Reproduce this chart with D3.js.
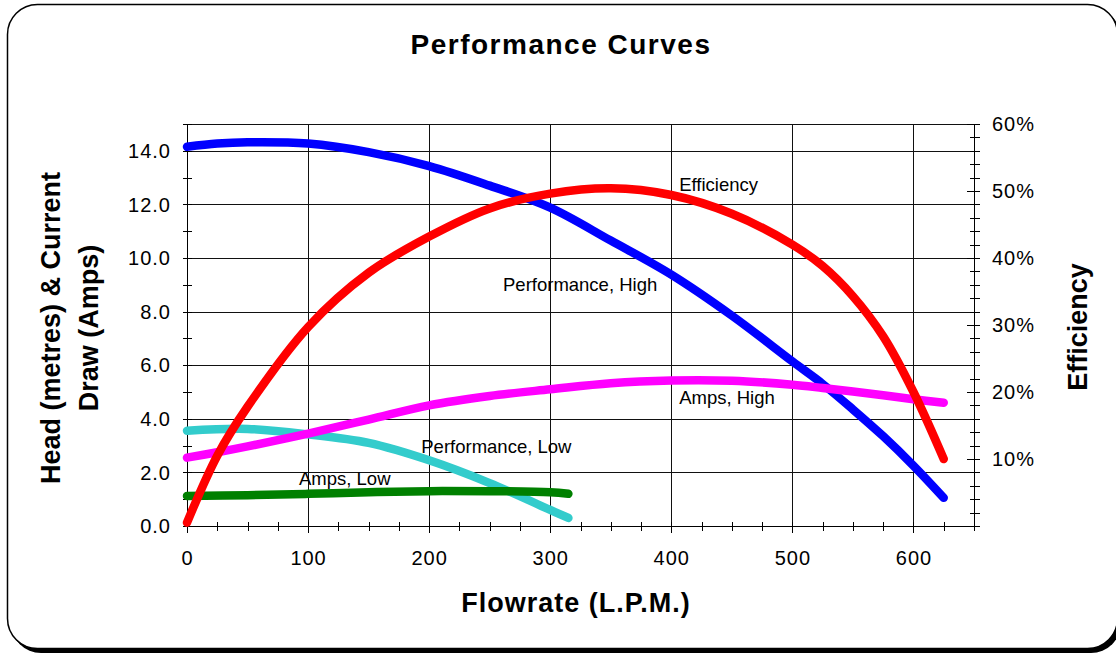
<!DOCTYPE html>
<html lang="en">
<head>
<meta charset="utf-8">
<title>Performance Curves</title>
<script src="https://d3js.org/d3.v7.min.js"></script>
<style>
  body { margin: 0; background: #fff; }
  svg text { font-family: "Liberation Sans", Arial, sans-serif; fill: #000; }
</style>
</head>
<body>
<script>
// flowrate (L.P.M.) for the high speed curves
var flowHigh   = [0, 25, 50, 100, 150, 200, 250, 300, 350, 400, 450, 500, 525, 550, 575, 600, 625];
var perfHigh   = [14.15, 14.27, 14.32, 14.27, 13.95, 13.43, 12.7, 11.88, 10.65, 9.38, 7.85, 6.14, 5.3, 4.35, 3.35, 2.25, 1.05];
var ampsHigh   = [2.55, 2.75, 2.97, 3.45, 3.97, 4.5, 4.85, 5.1, 5.33, 5.43, 5.42, 5.27, 5.15, 5.02, 4.88, 4.73, 4.6];
var efficiency = [0.5, 10.5, 17.8, 29.7, 37.8, 43.2, 47.4, 49.6, 50.4, 49.4, 46.6, 42, 38.8, 34.3, 28.3, 20, 10]; // %

// low speed curves
var flowLow = [0, 50, 100, 150, 200, 250, 300, 315];
var perfLow = [3.55, 3.62, 3.42, 3.1, 2.45, 1.6, 0.6, 0.3];
var ampsLow = [1.12, 1.15, 1.2, 1.26, 1.3, 1.3, 1.26, 1.2];

// ticks
var xTicks = [0, 100, 200, 300, 400, 500, 600];
var xMinorTicks = [0, 25, 50, 75, 100, 125, 150, 175, 200, 225, 250, 275, 300, 325, 350, 375, 400, 425, 450, 475, 500, 525, 550, 575, 600, 625, 650];
var leftTicks = [0, 2, 4, 6, 8, 10, 12, 14];
var leftMinorTicks = [0, 1, 2, 3, 4, 5, 6, 7, 8, 9, 10, 11, 12, 13, 14, 15];
var rightTicks = [10, 20, 30, 40, 50, 60];
var rightMinorTicks = [0, 2, 4, 6, 8, 10, 12, 14, 16, 18, 20, 22, 24, 26, 28, 30, 32, 34, 36, 38, 40, 42, 44, 46, 48, 50, 52, 54, 56, 58, 60];

var W = 1116, H = 653;
var plot = {left: 187, right: 974, top: 124, bottom: 526};

var svg = d3.select("body").append("svg")
  .attr("width", W)
  .attr("height", H);

// rounded frame with shadow
svg.append("rect")
  .attr("x", 11).attr("y", 8).attr("width", 1110).attr("height", 645)
  .attr("rx", 30).attr("fill", "#000");
svg.append("rect")
  .attr("x", 7.5).attr("y", 4.5).attr("width", 1110).attr("height", 644)
  .attr("rx", 30).attr("fill", "#fff").attr("stroke", "#000").attr("stroke-width", 1.5);

var x = d3.scaleLinear().domain([0, 650]).range([plot.left, plot.right]);
var yLeft = d3.scaleLinear().domain([0, 15]).range([plot.bottom, plot.top]);
var yRight = d3.scaleLinear().domain([0, 60]).range([plot.bottom, plot.top]);

// gridlines
var grid = svg.append("g").attr("shape-rendering", "crispEdges")
  .attr("stroke", "#111").attr("stroke-width", 1);
grid.selectAll(".vg").data(xTicks.filter(d => d > 0)).enter().append("line")
  .attr("x1", d => Math.round(x(d)) + 0.5).attr("x2", d => Math.round(x(d)) + 0.5)
  .attr("y1", plot.top).attr("y2", plot.bottom);
grid.selectAll(".hg").data(leftTicks.filter(d => d > 0).concat([15])).enter().append("line")
  .attr("x1", plot.left).attr("x2", plot.right)
  .attr("y1", d => Math.round(yLeft(d)) + 0.5).attr("y2", d => Math.round(yLeft(d)) + 0.5);

// axis lines
var axes = svg.append("g").attr("shape-rendering", "crispEdges")
  .attr("stroke", "#000").attr("stroke-width", 1.5);
axes.append("line").attr("x1", plot.left + 0.5).attr("x2", plot.left + 0.5).attr("y1", plot.top).attr("y2", plot.bottom);
axes.append("line").attr("x1", plot.right + 0.5).attr("x2", plot.right + 0.5).attr("y1", plot.top).attr("y2", plot.bottom);
axes.append("line").attr("x1", plot.left).attr("x2", plot.right + 6).attr("y1", plot.bottom + 0.5).attr("y2", plot.bottom + 0.5);

// tick marks (crossing the axis)
var tk = svg.append("g").attr("shape-rendering", "crispEdges").attr("stroke", "#000").attr("stroke-width", 1);
tk.selectAll(".lt").data(leftMinorTicks).enter().append("line")
  .attr("x1", plot.left - 4).attr("x2", plot.left + 5)
  .attr("y1", d => Math.round(yLeft(d)) + 0.5).attr("y2", d => Math.round(yLeft(d)) + 0.5);
tk.selectAll(".rt").data(rightMinorTicks).enter().append("line")
  .attr("x1", d => d % 10 === 0 ? plot.right - 7 : plot.right - 4).attr("x2", plot.right + 6)
  .attr("y1", d => Math.round(yRight(d)) + 0.5).attr("y2", d => Math.round(yRight(d)) + 0.5);
tk.selectAll(".bt").data(xMinorTicks).enter().append("line")
  .attr("x1", d => Math.round(x(d)) + 0.5).attr("x2", d => Math.round(x(d)) + 0.5)
  .attr("y1", plot.bottom - 4).attr("y2", d => d % 100 === 0 ? plot.bottom + 7 : plot.bottom + 5);

// tick labels
var lab = svg.append("g").attr("font-size", 20).attr("letter-spacing", 1);
lab.selectAll(".ll").data(leftTicks).enter().append("text")
  .attr("x", plot.left - 16).attr("y", d => yLeft(d)).attr("dy", "0.36em")
  .attr("text-anchor", "end").text(d3.format(".1f"));
lab.selectAll(".rl").data(rightTicks).enter().append("text")
  .attr("x", plot.right + 18).attr("y", d => yRight(d)).attr("dy", "0.36em")
  .text(d => d + "%");
lab.selectAll(".bl").data(xTicks).enter().append("text")
  .attr("x", d => x(d) + 0.5).attr("y", 565)
  .attr("text-anchor", "middle").text(d => d);

// curves, drawn in the original series order
var series = [
  {name: "Performance, High", xs: flowHigh, ys: perfHigh, scale: yLeft, color: "#0000ff", lx: 261, ly: 8.78},
  {name: "Performance, Low", xs: flowLow, ys: perfLow, scale: yLeft, color: "#33cccc", lx: 193.5, ly: 2.73},
  {name: "Amps, High", xs: flowHigh, ys: ampsHigh, scale: yLeft, color: "#ff00ff", lx: 406.5, ly: 4.55},
  {name: "Amps, Low", xs: flowLow, ys: ampsLow, scale: yLeft, color: "#008000", lx: 92.5, ly: 1.52},
  {name: "Efficiency", xs: flowHigh, ys: efficiency, scale: yRight, color: "#ff0000", lx: 406.5, ly: 50.0}
];

series.forEach(function(s) {
  var pts = s.xs.map(function(d, i) { return [d, s.ys[i]]; });
  var line = d3.line()
    .x(d => x(d[0]))
    .y(d => s.scale(d[1]))
    .curve(d3.curveCatmullRom.alpha(0.5));
  svg.append("path")
    .datum(pts)
    .attr("d", line)
    .attr("fill", "none")
    .attr("stroke", s.color)
    .attr("stroke-width", 8.5)
    .attr("stroke-linecap", "round")
    .attr("stroke-linejoin", "round");
});

// series labels
svg.append("g").attr("font-size", 18.5)
  .selectAll("text").data(series).enter().append("text")
  .attr("x", d => x(d.lx)).attr("y", d => d.scale(d.ly))
  .text(d => d.name);

// titles
svg.append("text")
  .attr("x", 561).attr("y", 54)
  .attr("text-anchor", "middle").attr("font-size", 28).attr("font-weight", "bold")
  .attr("letter-spacing", 1.5)
  .text("Performance Curves");

svg.append("text")
  .attr("x", 576).attr("y", 612)
  .attr("text-anchor", "middle").attr("font-size", 27).attr("font-weight", "bold")
  .attr("letter-spacing", 1)
  .text("Flowrate (L.P.M.)");

var yl = svg.append("text")
  .attr("transform", "translate(60,328) rotate(-90)")
  .attr("text-anchor", "middle").attr("font-size", 27).attr("font-weight", "bold");
yl.append("tspan").attr("x", 0).attr("y", 0).text("Head (metres) & Current");
yl.append("tspan").attr("x", 0).attr("y", 38).text("Draw (Amps)");

svg.append("text")
  .attr("transform", "translate(1087,327) rotate(-90)")
  .attr("text-anchor", "middle").attr("font-size", 27).attr("font-weight", "bold")
  .text("Efficiency");
</script>
</body>
</html>
